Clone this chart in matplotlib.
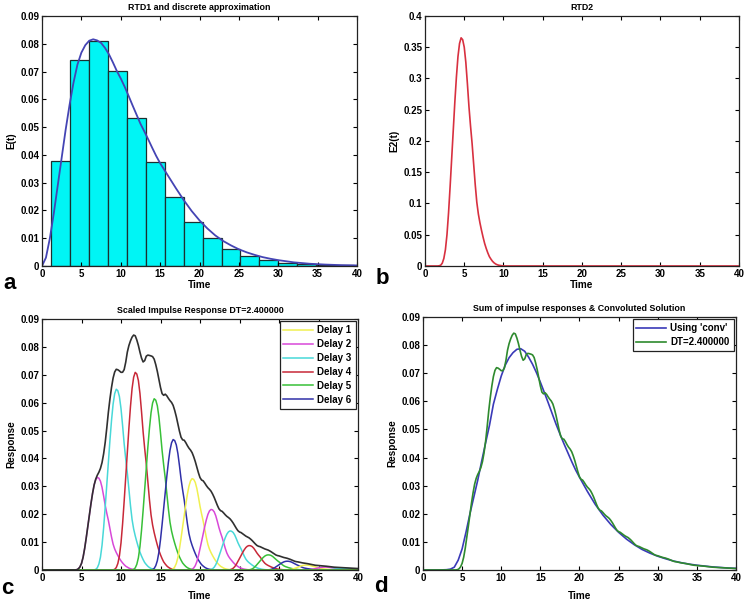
import matplotlib
matplotlib.use('Agg')
import matplotlib.pyplot as plt
import numpy as np
from matplotlib.ticker import FormatStrFormatter

plt.rcParams['font.family'] = ['Liberation Sans', 'DejaVu Sans']
plt.rcParams['font.weight'] = 'bold'
plt.rcParams['font.size'] = 7

DT = 2.4

# RTD1 continuous curve (panel a)
t1 = [0, 0.5, 1, 1.5, 2, 2.5, 3, 3.5, 4, 4.5, 5, 5.5, 6, 6.5, 7, 7.5, 8, 8.5, 9, 9.5,
      10, 10.5, 11, 11.5, 12, 12.5, 13, 13.5, 14, 14.5, 15, 16, 17, 18, 19, 20, 21, 22,
      23, 24, 25, 26, 27, 28, 29, 30, 32, 34, 36, 38, 40]
e1 = [0, 0.003, 0.010, 0.019, 0.029, 0.039, 0.049, 0.058, 0.066, 0.0725, 0.0768, 0.0795,
      0.0811, 0.0816, 0.0812, 0.0803, 0.0785, 0.0762, 0.0733, 0.0702, 0.0675, 0.0645,
      0.0612, 0.0578, 0.0545, 0.0512, 0.0484, 0.0455, 0.0425, 0.0396, 0.0370, 0.0325,
      0.0280, 0.0237, 0.0198, 0.0164, 0.0135, 0.0110, 0.0090, 0.0074, 0.0060, 0.0049,
      0.0040, 0.0032, 0.0026, 0.0021, 0.0013, 0.0008, 0.0005, 0.0003, 0.0002]

# discrete approximation, bar k centred at k*DT
bar_h = [0, 0.0379, 0.0740, 0.0809, 0.0701, 0.0534, 0.0374, 0.0248, 0.0160, 0.0100,
         0.0062, 0.0036, 0.0020, 0.0012, 0.0007, 0.0004, 0.0002]

# RTD2 sampled every 0.2 from 0 to 10 (panel b)
e2 = [0, 0, 0, 0, 0, 0, 0, 0, 0, 0.0003, 0.0012, 0.0045, 0.012, 0.026, 0.050, 0.085,
      0.127, 0.172, 0.218, 0.262, 0.302, 0.335, 0.356, 0.365, 0.362, 0.350, 0.326, 0.292,
      0.255, 0.224, 0.196, 0.163, 0.130, 0.102, 0.083, 0.069, 0.057, 0.046, 0.036, 0.028,
      0.021, 0.015, 0.011, 0.0075, 0.005, 0.0032, 0.002, 0.0012, 0.0007, 0.0003, 0.0001]

# result using 'conv' (panel d)
tc = [0, 1, 2, 3, 3.5, 4, 4.5, 5, 5.5, 6, 6.5, 7, 7.5, 8, 8.5, 9, 9.5, 10, 10.5, 11, 11.5,
      12, 12.5, 13, 13.5, 14, 14.5, 15, 15.5, 16, 16.5, 17, 17.5, 18, 18.5, 19, 19.5, 20,
      21, 22, 23, 24, 25, 26, 27, 28, 29, 30, 31, 32, 33, 34, 35, 36, 37, 38, 39, 40]
ec = [0, 0, 0, 0.0001, 0.0003, 0.0010, 0.0035, 0.0075, 0.0135, 0.0200, 0.0260, 0.0320,
      0.0387, 0.0452, 0.0515, 0.0590, 0.0642, 0.0690, 0.0728, 0.0755, 0.0773, 0.0785,
      0.0787, 0.0778, 0.0757, 0.0732, 0.0702, 0.0668, 0.0632, 0.0595, 0.0557, 0.0519,
      0.0484, 0.0450, 0.0418, 0.0386, 0.0356, 0.0330, 0.0280, 0.0234, 0.0195, 0.0162,
      0.0134, 0.0110, 0.0090, 0.0073, 0.0060, 0.0049, 0.0040, 0.0032, 0.0026, 0.0021,
      0.0017, 0.0014, 0.0011, 0.0009, 0.0007, 0.0006]

delay_colors = ['#f0f050', '#d848d8', '#48d8d8', '#c82838', '#38c038', '#3030a8']

step = 0.2
n = 201
t = np.arange(n) * step
shift = int(round(DT / step))
rtd2 = np.array(e2)

pulses = []
for k, h in enumerate(bar_h):
    p = np.zeros(n)
    i0 = k * shift
    m = min(len(rtd2), n - i0)
    p[i0:i0 + m] = h * DT * rtd2[:m]
    pulses.append(p)
total = np.sum(pulses, axis=0)

fig = plt.figure(figsize=(7.46, 6), dpi=100)
ax_a = fig.add_axes([0.0563, 0.5567, 0.4223, 0.4167])
ax_b = fig.add_axes([0.5697, 0.5567, 0.4209, 0.4167])
ax_c = fig.add_axes([0.0563, 0.05, 0.4236, 0.4183])
ax_d = fig.add_axes([0.567, 0.05, 0.4196, 0.4217])


def style(ax, ymax, ystep, title, ylabel, xlpad=1):
    ax.set_xlim(0, 40)
    ax.set_ylim(0, ymax)
    ax.set_xticks(np.arange(0, 41, 5))
    ax.set_yticks(np.arange(0, ymax + ystep / 2, ystep))
    ax.yaxis.set_major_formatter(FormatStrFormatter('%g'))
    ax.tick_params(direction='in', top=True, right=True, length=3, width=0.8,
                   labelsize=7, pad=2)
    for lab in ax.get_xticklabels() + ax.get_yticklabels():
        lab.set_fontweight('bold')
    for s in ax.spines.values():
        s.set_linewidth(0.9)
        s.set_color('#222222')
    ax.set_title(title, fontsize=6.4, fontweight='bold', pad=4)
    ax.set_ylabel(ylabel, fontsize=7.2, fontweight='bold', labelpad=3)
    ax.set_xlabel('Time', fontsize=7.2, fontweight='bold', labelpad=xlpad)


def legend(ax):
    leg = ax.legend(loc='upper right', fontsize=7, fancybox=False, framealpha=1,
                    edgecolor='#222222', borderaxespad=0.25, handlelength=3.0,
                    labelspacing=0.4, borderpad=0.4, handletextpad=0.5)
    leg.get_frame().set_linewidth(0.9)
    for txt in leg.get_texts():
        txt.set_fontweight('bold')


# a
ax_a.bar(np.arange(len(bar_h)) * DT, bar_h, width=DT, color='#00f5f5',
         edgecolor='#1c3030', linewidth=0.9)
ax_a.plot(t1, e1, color='#4444b4', lw=1.3)
style(ax_a, 0.09, 0.01, 'RTD1 and discrete approximation', 'E(t)')

# b
ax_b.plot(t, np.concatenate([rtd2, np.zeros(n - len(rtd2))]), color='#d83040', lw=1.2)
style(ax_b, 0.4, 0.05, 'RTD2', 'E2(t)')

# c
for k, p in enumerate(pulses):
    lab = 'Delay %d' % (k + 1) if k < 6 else None
    ax_c.plot(t, p, color=delay_colors[k % 6], lw=1.1, label=lab)
ax_c.plot(t, total, color='#303030', lw=1.2)
style(ax_c, 0.09, 0.01, 'Scaled Impulse Response DT=2.400000', 'Response', xlpad=6)
legend(ax_c)

# d
ax_d.plot(tc, ec, color='#3a3ab8', lw=1.2, label="Using 'conv'")
ax_d.plot(t, total, color='#2e8a2e', lw=1.2, label='DT=2.400000')
style(ax_d, 0.09, 0.01, 'Sum of impulse responses & Convoluted Solution', 'Response', xlpad=6)
legend(ax_d)

for x, y, s in [(0.013, 0.528, 'a'), (0.513, 0.535, 'b'), (0.01, 0.02, 'c'), (0.51, 0.022, 'd')]:
    fig.text(x, y, s, fontsize=16, fontweight='bold', ha='center', va='center',
             family=['Liberation Sans', 'DejaVu Sans'])

fig.savefig('out.png', dpi=100)
